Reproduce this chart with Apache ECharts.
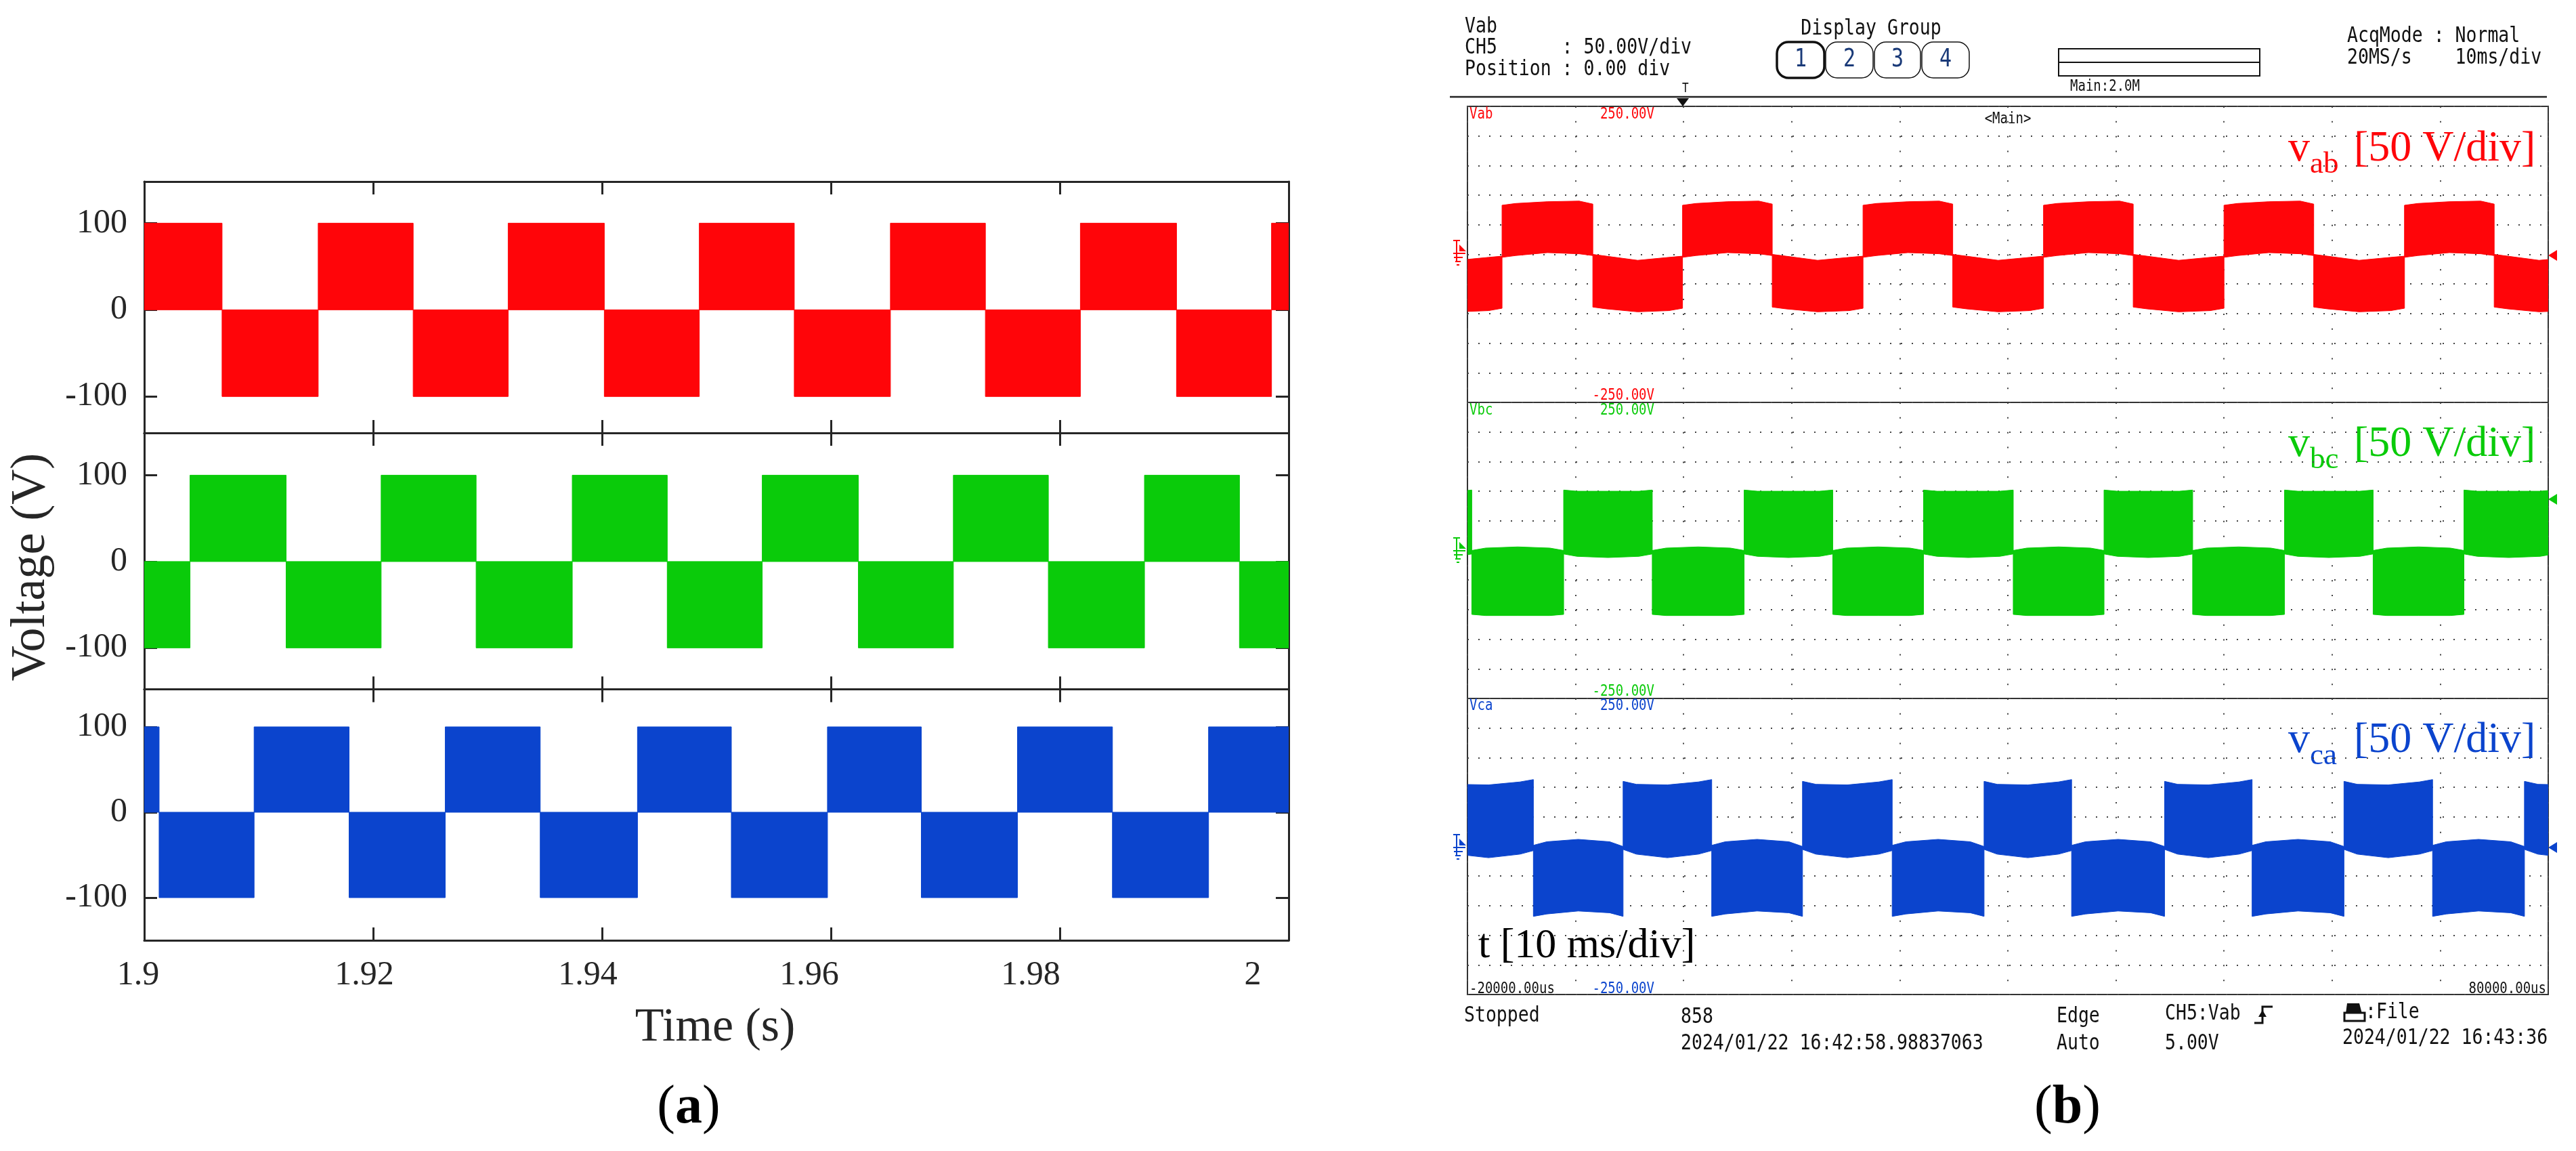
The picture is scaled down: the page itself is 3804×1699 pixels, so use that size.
<!DOCTYPE html>
<html>
<head>
<meta charset="utf-8">
<script src="https://cdn.jsdelivr.net/npm/echarts@6/dist/echarts.min.js"></script>
<style>html,body{margin:0;padding:0;background:#fff}#c{width:3804px;height:1699px}</style>
</head>
<body>
<div id="c"></div>
<script>
// ================= DATA =================
// ---- Panel (a): simulation ----
const simTimeRange = [1.9, 2.0];
const simXTicks = [1.9, 1.92, 1.94, 1.96, 1.98, 2];
const simYTicks = [-100, 0, 100];
const simAmplitude = 100;
// switching instants (s), sign = level of first block
const vabSimFirstSign = 1;
const vabSimEdges = [1.9068, 1.9152, 1.9235, 1.9318, 1.9402, 1.9485, 1.9568, 1.9652, 1.9735, 1.9818, 1.9902, 1.9985];
const vbcSimFirstSign = -1;
const vbcSimEdges = [1.9040, 1.9124, 1.9207, 1.9290, 1.9374, 1.9457, 1.9540, 1.9624, 1.9707, 1.9790, 1.9874, 1.9957];
const vcaSimFirstSign = 1;
const vcaSimEdges = [1.9013, 1.9096, 1.9179, 1.9263, 1.9346, 1.9431, 1.9513, 1.9597, 1.9679, 1.9763, 1.9846, 1.9930];

// ---- Panel (b): oscilloscope (time in ms, volts) ----
const scopeTimeRange = [-20, 80];
const scopeVoltRange = [-250, 250];
const scopeShapeFrac = [0, 0.15, 0.5, 0.85, 1];   // where each envelope sample sits inside a block
const vabScopeFirstSign = -1;
const vabScopeEdges = [-25.0, -16.8, -8.4, -0.1, 8.2, 16.6, 24.9, 33.3, 41.6, 50.0, 58.3, 66.7, 75.0, 83.3];
const vabPosOuter = [83, 86, 89, 90, 85];
const vabPosInner = [-5, -2, 3, 1, -2];
const vabNegOuter = [-89, -92, -97, -95, -91];
const vabNegInner = [0, -3, -10, -5, -3];
const vbcScopeFirstSign = 1;
const vbcScopeEdges = [-27.9, -19.6, -11.1, -2.9, 5.6, 13.8, 22.2, 30.5, 38.9, 47.1, 55.6, 63.8, 72.2, 80.5];
const vbcPosOuter = [102, 100, 100, 100, 102];
const vbcPosInner = [-6, -10, -12, -10, -6];
const vbcNegOuter = [-108, -110, -110, -110, -108];
const vbcNegInner = [0, 4, 6, 4, 0];
const vcaScopeFirstSign = 1;
const vcaScopeEdges = [-22.2, -13.9, -5.6, 2.6, 11.0, 19.3, 27.8, 35.9, 44.5, 52.6, 61.1, 69.3, 77.8, 86.1];
const vcaPosOuter = [110, 105, 104, 109, 113];
const vcaPosInner = [-5, -13, -19, -13, -7];
const vcaNegOuter = [-118, -114, -109, -112, -118];
const vcaNegInner = [2, 8, 12, 8, 0];

// ================= STYLE / LAYOUT =================
const RED = '#ff0509', GREEN = '#0acb0a', BLUE = '#0b44cd', INK = '#262626';
const SERIF = '"Liberation Serif", "Times New Roman", serif';
const MONO = '"DejaVu Sans Mono", monospace';
const simLayout = [
  { top: 268, height: 371, min: -142, max: 148 },
  { top: 639, height: 378.5, min: -148, max: 149 },
  { top: 1017.5, height: 370.5, min: -150, max: 144 }
];
const simXLabelShift = [-9, -13, -21, -32, -43, -53];
const scopeLeft = 2167, scopeWidth = 1596, scopeTop = 157, scopeWinH = 437;

function blocksFrom(bounds, firstSign) {
  const out = []; let s = firstSign;
  for (let i = 0; i < bounds.length - 1; i++) { out.push([bounds[i], bounds[i + 1], s]); s = -s; }
  return out;
}
function simRender(color) {
  return function (params, api) {
    const t0 = api.value(0), t1 = api.value(1), s = api.value(2);
    const pts = [api.coord([t0, 0]), api.coord([t1, 0]), api.coord([t1, s * simAmplitude]), api.coord([t0, s * simAmplitude])];
    return { type: 'polygon', shape: { points: pts }, style: { fill: color, stroke: color, lineWidth: 1 } };
  };
}
function scopeRender(color, shape) {
  return function (params, api) {
    const t0 = api.value(0), t1 = api.value(1), s = api.value(2);
    const outer = s > 0 ? shape.posOuter : shape.negOuter;
    const inner = s > 0 ? shape.posInner : shape.negInner;
    const pts = [];
    scopeShapeFrac.forEach((f, i) => pts.push(api.coord([t0 + (t1 - t0) * f, outer[i]])));
    for (let i = scopeShapeFrac.length - 1; i >= 0; i--) pts.push(api.coord([t0 + (t1 - t0) * scopeShapeFrac[i], inner[i]]));
    return { type: 'polygon', shape: { points: pts }, style: { fill: color, stroke: color, lineWidth: 1 } };
  };
}

const grid = [], xAxis = [], yAxis = [], series = [];
const axisLineStyle = { color: INK, width: 3 };
const xRich = {};
simXLabelShift.forEach((d, i) => { xRich['s' + i] = { fontSize: 50, fontFamily: SERIF, color: INK, padding: [0, -2 * d, 0, 0] }; });

const simSeries = [
  { edges: vabSimEdges, sign: vabSimFirstSign, color: RED },
  { edges: vbcSimEdges, sign: vbcSimFirstSign, color: GREEN },
  { edges: vcaSimEdges, sign: vcaSimFirstSign, color: BLUE }
];
simLayout.forEach((L, i) => {
  grid.push({ left: 213, width: 1690, top: L.top, height: L.height });
  const base = {
    type: 'value', gridIndex: i, min: simTimeRange[0], max: simTimeRange[1],
    axisLine: { show: true, onZero: false, lineStyle: axisLineStyle },
    axisTick: { show: true, inside: true, length: 19, lineStyle: { color: INK, width: 3 }, customValues: simXTicks },
    splitLine: { show: false }
  };
  xAxis.push(Object.assign({}, base, {
    position: 'bottom',
    axisLabel: i === 2 ? {
      show: true, customValues: simXTicks, margin: 27,
      formatter: (v) => { const k = simXTicks.findIndex(t => Math.abs(t - v) < 1e-9); return '{s' + k + '|' + String(v) + '}'; },
      rich: xRich
    } : { show: false }
  }));
  xAxis.push(Object.assign({}, base, { position: 'top', axisLabel: { show: false } }));
  const ybase = {
    type: 'value', gridIndex: i, min: L.min, max: L.max,
    axisLine: { show: true, onZero: false, lineStyle: axisLineStyle },
    axisTick: { show: true, inside: true, length: 19, lineStyle: { color: INK, width: 3 }, customValues: simYTicks },
    splitLine: { show: false }
  };
  yAxis.push(Object.assign({}, ybase, {
    position: 'left',
    axisLabel: { show: true, customValues: simYTicks, margin: 25, fontSize: 50, fontFamily: SERIF, color: INK }
  }));
  yAxis.push(Object.assign({}, ybase, { position: 'right', axisLabel: { show: false } }));
  const S = simSeries[i];
  series.push({
    type: 'custom', xAxisIndex: 2 * i, yAxisIndex: 2 * i, clip: true,
    data: blocksFrom([simTimeRange[0]].concat(S.edges, [simTimeRange[1]]), S.sign),
    renderItem: simRender(S.color), silent: true
  });
});

const scopeSeries = [
  { edges: vabScopeEdges, sign: vabScopeFirstSign, color: RED, shape: { posOuter: vabPosOuter, posInner: vabPosInner, negOuter: vabNegOuter, negInner: vabNegInner } },
  { edges: vbcScopeEdges, sign: vbcScopeFirstSign, color: GREEN, shape: { posOuter: vbcPosOuter, posInner: vbcPosInner, negOuter: vbcNegOuter, negInner: vbcNegInner } },
  { edges: vcaScopeEdges, sign: vcaScopeFirstSign, color: BLUE, shape: { posOuter: vcaPosOuter, posInner: vcaPosInner, negOuter: vcaNegOuter, negInner: vcaNegInner } }
];
scopeSeries.forEach((S, k) => {
  const gi = 3 + k;
  grid.push({ left: scopeLeft, width: scopeWidth, top: scopeTop + k * scopeWinH, height: scopeWinH, show: true, borderColor: '#333', borderWidth: 2, backgroundColor: 'transparent' });
  xAxis.push({
    type: 'value', gridIndex: gi, min: scopeTimeRange[0], max: scopeTimeRange[1], interval: 10,
    axisLine: { show: false, onZero: false }, axisTick: { show: false }, axisLabel: { show: false },
    splitLine: { show: true, lineStyle: { type: [2, 19.85], color: '#444', width: 2 } }
  });
  yAxis.push({
    type: 'value', gridIndex: gi, min: scopeVoltRange[0], max: scopeVoltRange[1], interval: 50,
    axisLine: { show: false, onZero: false }, axisTick: { show: false }, axisLabel: { show: false },
    splitLine: { show: true, lineStyle: { type: [2, 14], color: '#444', width: 2 } }
  });
  series.push({
    type: 'custom', xAxisIndex: 6 + k, yAxisIndex: 6 + k, clip: true,
    data: blocksFrom(S.edges, S.sign), renderItem: scopeRender(S.color, S.shape), silent: true
  });
});

// ================= GRAPHIC TEXT / DECOR =================
function mono(text, x, y, size, color, align) {
  return { type: 'text', x: x, y: y, scaleY: 1.22, silent: true,
    style: { text: text, fill: color || '#111', fontSize: size, fontFamily: MONO, align: align || 'left', verticalAlign: 'middle' } };
}
function serif(text, x, y, size, color, align, extra) {
  return Object.assign({ type: 'text', x: x, y: y, silent: true,
    style: { text: text, fill: color || '#000', fontSize: size, fontFamily: SERIF, align: align || 'left', verticalAlign: 'middle' } }, extra || {});
}
function line(x1, y1, x2, y2, color, w) {
  return { type: 'line', silent: true, shape: { x1, y1, x2, y2 }, style: { stroke: color, lineWidth: w } };
}
function poly(points, color) {
  return { type: 'polygon', silent: true, shape: { points }, style: { fill: color } };
}
const G = [];
// panel (a)
G.push(serif('Voltage (V)', 46, 837, 72, INK, 'center', { rotation: Math.PI / 2 }));
G.push(serif('Time (s)', 1056, 1518, 70, INK, 'center'));
G.push({ type: 'text', x: 1017, y: 1636, silent: true, style: { text: '{n|(}{b|a}{n|)}', align: 'center', verticalAlign: 'middle',
  rich: { n: { fontSize: 80, fontFamily: SERIF, fill: '#000' }, b: { fontSize: 80, fontFamily: SERIF, fontWeight: 'bold', fill: '#000' } } } });
G.push({ type: 'text', x: 3053, y: 1636, silent: true, style: { text: '{n|(}{b|b}{n|)}', align: 'center', verticalAlign: 'middle',
  rich: { n: { fontSize: 80, fontFamily: SERIF, fill: '#000' }, b: { fontSize: 80, fontFamily: SERIF, fontWeight: 'bold', fill: '#000' } } } });

// panel (b) header
G.push(mono('Vab', 2163, 40, 26.5));
G.push(mono('CH5      : 50.00V/div', 2163, 71, 26.5));
G.push(mono('Position : 0.00 div', 2163, 103, 26.5));
G.push(mono('Display Group', 2763, 43, 26.5, '#111', 'center'));
const btnX = [2623, 2695, 2767, 2837, 2909];
for (let b = 0; b < 4; b++) {
  G.push({ type: 'rect', silent: true, shape: { x: btnX[b] + 1, y: 62, width: btnX[b + 1] - btnX[b] - 2, height: 53, r: 17 },
    style: { fill: '#fff', stroke: '#111', lineWidth: b === 0 ? 3.5 : 1.5 } });
  G.push(mono(String(b + 1), (btnX[b] + btnX[b + 1]) / 2, 88, 30, '#1a3a78', 'center'));
}
G.push({ type: 'rect', silent: true, shape: { x: 3040, y: 72, width: 297, height: 40 }, style: { fill: 'none', stroke: '#111', lineWidth: 2 } });
G.push(line(3040, 92, 3337, 92, '#111', 2));
G.push(mono('Main:2.0M', 3057, 128, 19));
G.push(mono('AcqMode : Normal', 3466, 54, 26.5));
G.push(mono('20MS/s    10ms/div', 3466, 86, 26.5));
G.push(line(2141, 143, 3761, 143, '#222', 2.5));
G.push(mono('T', 2484, 131, 16));
G.push(poly([[2476, 145], [2494, 145], [2485, 157]], '#111'));

// channel labels inside screen
G.push(mono('Vab', 2170, 169, 19, RED));
G.push(mono('250.00V', 2443, 169, 19, RED, 'right'));
G.push(mono('<Main>', 2965, 176, 19, '#111', 'center'));
G.push(mono('-250.00V', 2443, 584, 19, RED, 'right'));
G.push(mono('Vbc', 2170, 606, 19, GREEN));
G.push(mono('250.00V', 2443, 606, 19, GREEN, 'right'));
G.push(mono('-250.00V', 2443, 1021, 19, GREEN, 'right'));
G.push(mono('Vca', 2170, 1042, 19, BLUE));
G.push(mono('250.00V', 2443, 1042, 19, BLUE, 'right'));
G.push(mono('-250.00V', 2443, 1460, 19, BLUE, 'right'));
G.push(mono('-20000.00us', 2170, 1460, 19, '#111'));
G.push(mono('80000.00us', 3760, 1460, 19, '#111', 'right'));

// ground markers (left) and level markers (right)
function ground(color, yc) {
  G.push(line(2146, yc - 18, 2156, yc - 18, color, 2));
  G.push(line(2151, yc - 18, 2151, yc + 12, color, 2));
  G.push(poly([[2155, yc - 12], [2155, yc - 2], [2165, yc - 2]], color));
  G.push(line(2146, yc + 1, 2164, yc + 1, color, 2));
  G.push(line(2147, yc + 7, 2160, yc + 7, color, 2));
  G.push(line(2149, yc + 13, 2157, yc + 13, color, 2));
  G.push(line(2151, yc + 18, 2155, yc + 18, color, 2));
}
ground(RED, 373); ground(GREEN, 812); ground(BLUE, 1250);
G.push(poly([[3763, 377], [3776, 369], [3776, 385]], RED));
G.push(poly([[3763, 737], [3776, 729], [3776, 745]], GREEN));
G.push(poly([[3763, 1251], [3776, 1243], [3776, 1259]], BLUE));

// channel annotations
function vLabel(sub, color, top) {
  G.push(serif('v', 3379, top + 85 - 21.6, 64, color, 'left'));
  G.push(serif(sub, 3411, top + 101 - 15.2, 45, color, 'left'));
  G.push(serif('[50 V/div]', 3476, top + 85 - 21.6, 64, color, 'left'));
}
vLabel('ab', RED, 157); vLabel('bc', GREEN, 593); vLabel('ca', BLUE, 1030);
G.push(serif('t [10 ms/div]', 2183, 1397, 62, '#000', 'left'));

// status lines under the screen
G.push(mono('Stopped', 2162, 1500, 26.5));
G.push(mono('858', 2482, 1502, 26.5));
G.push(mono('2024/01/22 16:42:58.98837063', 2482, 1541, 26.5));
G.push(mono('Edge', 3037, 1501, 26.5));
G.push(mono('Auto', 3037, 1541, 26.5));
G.push(mono('CH5:Vab', 3197, 1497, 26.5));
G.push(mono('5.00V', 3197, 1541, 26.5));
G.push({ type: 'polyline', silent: true, shape: { points: [[3329, 1510], [3341, 1510], [3341, 1486], [3356, 1486]] }, style: { stroke: '#111', lineWidth: 3, fill: 'none' } });
G.push(poly([[3335, 1501], [3347, 1501], [3341, 1491]], '#111'));
G.push(poly([[3466, 1481], [3484, 1481], [3488, 1496], [3464, 1496]], '#111'));
G.push({ type: 'rect', silent: true, shape: { x: 3462, y: 1495, width: 30, height: 12 }, style: { fill: '#fff', stroke: '#111', lineWidth: 3 } });
G.push(mono(':File', 3493, 1495, 26.5));
G.push(mono('2024/01/22 16:43:36', 3459, 1533, 26.5));

const option = {
  animation: false,
  backgroundColor: '#ffffff',
  grid: grid, xAxis: xAxis, yAxis: yAxis, series: series,
  graphic: { elements: G }
};
const chart = echarts.init(document.getElementById('c'), null, { renderer: 'canvas', width: 3804, height: 1699 });
chart.setOption(option);
</script>
</body>
</html>
